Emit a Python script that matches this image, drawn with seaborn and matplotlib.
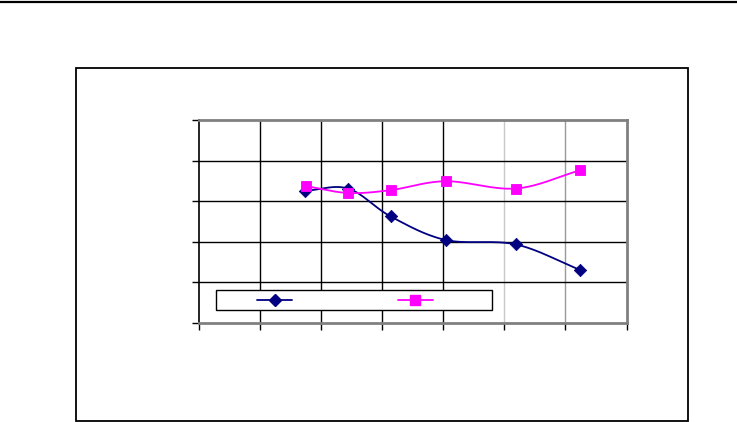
import numpy as np
import pandas as pd
import matplotlib
matplotlib.use("Agg")
import matplotlib.pyplot as plt
from matplotlib.patches import Rectangle
from matplotlib.lines import Line2D
import seaborn as sns

# ---- data ----
x_blue = [1.73, 2.44, 3.14, 4.04, 5.19, 6.24]
y_blue = [3.25, 3.31, 2.62, 2.04, 1.93, 1.30]
x_pink = [1.75, 2.44, 3.14, 4.04, 5.19, 6.24]
y_pink = [3.37, 3.20, 3.27, 3.49, 3.31, 3.76]
x_ticks = [0, 1, 2, 3, 4, 5, 6, 7]
y_ticks = [0, 1, 2, 3, 4, 5]

BLUE = "#000080"
PINK = "#ff00ff"

sns.set_theme(style="white")
plt.rcParams['font.family'] = ['DejaVu Sans']


def catmull_rom(xs, ys, n=30):
    xs = np.asarray(xs, float)
    ys = np.asarray(ys, float)
    P = np.column_stack([xs, ys])
    P = np.vstack([P[0] - (P[1] - P[0]), P, P[-1] + (P[-1] - P[-2])])
    out = []
    for i in range(1, len(P) - 2):
        p0, p1, p2, p3 = P[i - 1], P[i], P[i + 1], P[i + 2]
        t = np.linspace(0, 1, n)[:, None]
        seg = 0.5 * ((2 * p1) + (-p0 + p2) * t + (2 * p0 - 5 * p1 + 4 * p2 - p3) * t ** 2
                     + (-p0 + 3 * p1 - 3 * p2 + p3) * t ** 3)
        out.append(seg)
    out = np.vstack(out)
    return out[:, 0], out[:, 1]


fig = plt.figure(figsize=(7.37, 4.22), dpi=100)
fig.patch.set_facecolor("white")

# top rule line across the page
fig.add_artist(Line2D([0, 1], [1 - 1.5 / 422, 1 - 1.5 / 422], color="black", lw=1.6,
                      transform=fig.transFigure))
# outer chart frame
fig.add_artist(Rectangle((76 / 737, 1 - 420.5 / 422), (687.5 - 76) / 737, (420.5 - 68.3) / 422,
                         fill=False, edgecolor="black", lw=1.3, transform=fig.transFigure))

ax = fig.add_axes([199 / 737, 1 - 322.7 / 422, (626.5 - 199) / 737, (322.7 - 120) / 422])
ax.set_xlim(0, 7)
ax.set_ylim(0, 5)
ax.set_xticks(x_ticks)
ax.set_yticks(y_ticks)
ax.set_xticklabels([])
ax.set_yticklabels([])

# grid lines
for xv in x_ticks[1:-1]:
    c = "black"
    if xv == 5:
        c = "#c8c8c8"
    elif xv == 6:
        c = "#999999"
    ax.axvline(xv, color=c, lw=1.0, zorder=1)
for yv in y_ticks[1:-1]:
    ax.axhline(yv, color="black", lw=1.0, zorder=1)

for s in ["top", "right", "bottom"]:
    ax.spines[s].set_color("#808080")
    ax.spines[s].set_linewidth(2.0)
ax.spines["left"].set_color("black")
ax.spines["left"].set_linewidth(1.2)
ax.tick_params(axis="both", direction="out", length=5, width=1.0, color="black",
               bottom=True, left=True)

# smoothed lines
bx, by = catmull_rom(x_blue, y_blue)
px, py = catmull_rom(x_pink, y_pink)
ax.plot(bx, by, color=BLUE, lw=1.3, zorder=3)
ax.plot(px, py, color=PINK, lw=1.3, zorder=3)

df_b = pd.DataFrame({"x": x_blue, "y": y_blue})
df_p = pd.DataFrame({"x": x_pink, "y": y_pink})
sns.scatterplot(data=df_b, x="x", y="y", ax=ax, marker="D", s=40, color=BLUE,
                edgecolor=BLUE, zorder=4, legend=False)
sns.scatterplot(data=df_p, x="x", y="y", ax=ax, marker="s", s=60, color=PINK,
                edgecolor=PINK, zorder=4, legend=False)
ax.set_xlabel("")
ax.set_ylabel("")

# legend box (no text)
fig.add_artist(Rectangle((215.5 / 737, 1 - 310.3 / 422), (492.3 - 215.5) / 737, 20 / 422,
                         facecolor="white", edgecolor="black", lw=1.0, transform=fig.transFigure,
                         zorder=10))
ly = 1 - 300.3 / 422
fig.add_artist(Line2D([257 / 737, 292 / 737], [ly, ly], color=BLUE, lw=1.3,
                      transform=fig.transFigure, zorder=11))
fig.add_artist(Line2D([275 / 737], [ly], color=BLUE, marker="D", ms=6, lw=0,
                      transform=fig.transFigure, zorder=12))
fig.add_artist(Line2D([398 / 737, 433 / 737], [ly, ly], color=PINK, lw=1.3,
                      transform=fig.transFigure, zorder=11))
fig.add_artist(Line2D([415.3 / 737], [ly], color=PINK, marker="s", ms=7.5, lw=0,
                      transform=fig.transFigure, zorder=12))

fig.savefig("out.png", dpi=100, facecolor="white")
